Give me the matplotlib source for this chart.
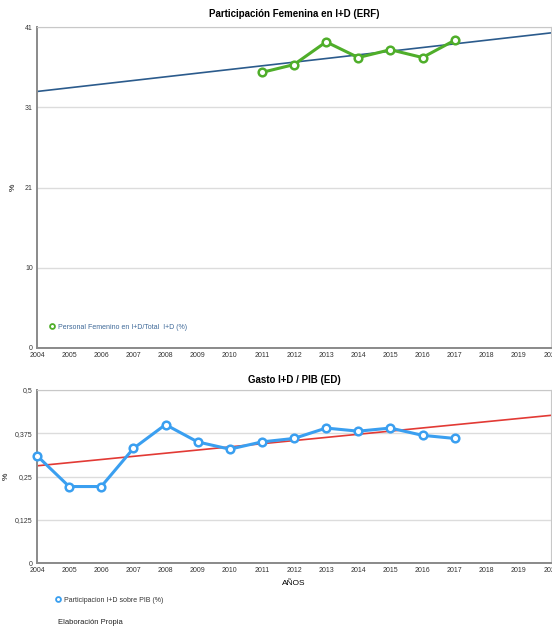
import numpy as np
import matplotlib
matplotlib.use('Agg')
import matplotlib.pyplot as plt
from matplotlib.lines import Line2D

plt.rcParams['font.family'] = ['Liberation Sans', 'DejaVu Sans']

# data
years_fem = [2011, 2012, 2013, 2014, 2015, 2016, 2017]
fem_pct = [35.2, 36.2, 39.1, 37.1, 38.1, 37.1, 39.3]

years_pib = [2004, 2005, 2006, 2007, 2008, 2009, 2010, 2011, 2012, 2013, 2014, 2015, 2016, 2017]
pib_pct = [0.310, 0.221, 0.221, 0.331, 0.400, 0.350, 0.329, 0.350, 0.360, 0.390, 0.381, 0.390, 0.369, 0.360]

xticks = list(range(2004, 2021))
fem_yticks = np.linspace(0, 41, 5)
fem_ylabels = ['0', '10', '21', '31', '41']
pib_yticks = [0, 0.125, 0.25, 0.375, 0.5]
pib_ylabels = ['0', '0,125', '0,25', '0,375', '0,5']

green = '#4fae2a'
blue = '#3a9ff0'
trend_blue = '#2b5b8c'
trend_red = '#e23a35'
grid_c = '#dcdcdc'

fig = plt.figure(figsize=(5.52, 6.30), dpi=100)
ax1 = fig.add_axes([37 / 552, 1 - 348 / 630, 514 / 552, 321 / 630])
ax2 = fig.add_axes([37 / 552, 1 - 563 / 630, 514 / 552, 173 / 630])


def style(ax, yticks, ylabels, ylab_x):
    ax.set_xlim(2004, 2020)
    ax.set_xticks(xticks)
    ax.set_xticklabels([str(y) for y in xticks], fontsize=5, color='#333333')
    ax.set_yticks(yticks)
    ax.set_yticklabels(ylabels, fontsize=5, color='#333333')
    ax.set_ylim(yticks[0], yticks[-1])
    ax.tick_params(length=0, pad=3)
    ax.yaxis.grid(True, color=grid_c, linewidth=1.0)
    ax.set_axisbelow(True)
    for s in ['left', 'bottom']:
        ax.spines[s].set_color('#8a8a8a')
        ax.spines[s].set_linewidth(1.4)
    for s in ['top', 'right']:
        ax.spines[s].set_color('#c8c8c8')
        ax.spines[s].set_linewidth(0.8)
    ax.set_ylabel('%', fontsize=6)
    ax.yaxis.set_label_coords(ylab_x, 0.5)


trend_x = np.array([2004, 2020])

# top chart
style(ax1, fem_yticks, fem_ylabels, (17 - 37) / 514)
k1 = np.polyfit(years_fem, fem_pct, 1)
ax1.plot(trend_x, np.polyval(k1, trend_x), color=trend_blue, linewidth=1.2, zorder=2)
ax1.plot(years_fem, fem_pct, color=green, linewidth=2.2, marker='o', markersize=5.5,
         markerfacecolor='white', markeredgecolor=green, markeredgewidth=1.8, zorder=3)
ax1.set_title('Participación Femenina en I+D (ERF)', fontsize=7, fontweight='bold', pad=7)
h1 = Line2D([], [], linestyle='none', marker='o', markersize=3.5, markerfacecolor='white',
            markeredgecolor=green, markeredgewidth=1.3)
ax1.legend([h1], ['Personal Femenino en I+D/Total  I+D (%)'], loc='lower left',
           bbox_to_anchor=(0.01, 0.035), frameon=False, fontsize=5, handlelength=1,
           handletextpad=0.4, labelcolor='#3d6898')

# bottom chart
style(ax2, pib_yticks, pib_ylabels, (10 - 37) / 514)
k2 = np.polyfit(years_pib, pib_pct, 1)
ax2.plot(trend_x, np.polyval(k2, trend_x), color=trend_red, linewidth=1.2, zorder=2)
ax2.plot(years_pib, pib_pct, color=blue, linewidth=2.2, marker='o', markersize=5.5,
         markerfacecolor='white', markeredgecolor=blue, markeredgewidth=1.8, zorder=3,
         clip_on=False)
ax2.set_title('Gasto I+D / PIB (ED)', fontsize=7, fontweight='bold', pad=5)
ax2.set_xlabel('AÑOS', fontsize=6, labelpad=4)

h2 = Line2D([], [], linestyle='none', marker='o', markersize=3.5, markerfacecolor='white',
            markeredgecolor=blue, markeredgewidth=1.3)
fig.legend([h2], ['Participacion I+D sobre PIB (%)'], loc='center left',
           bbox_to_anchor=(48 / 552, 1 - 600 / 630), frameon=False, fontsize=5,
           handlelength=1, handletextpad=0.4, labelcolor='#333333')

fig.text(58 / 552, 1 - 623 / 630, 'Elaboración Propia', fontsize=5.5, color='#222222',
         va='center', ha='left')

fig.savefig('out.png', dpi=100)
